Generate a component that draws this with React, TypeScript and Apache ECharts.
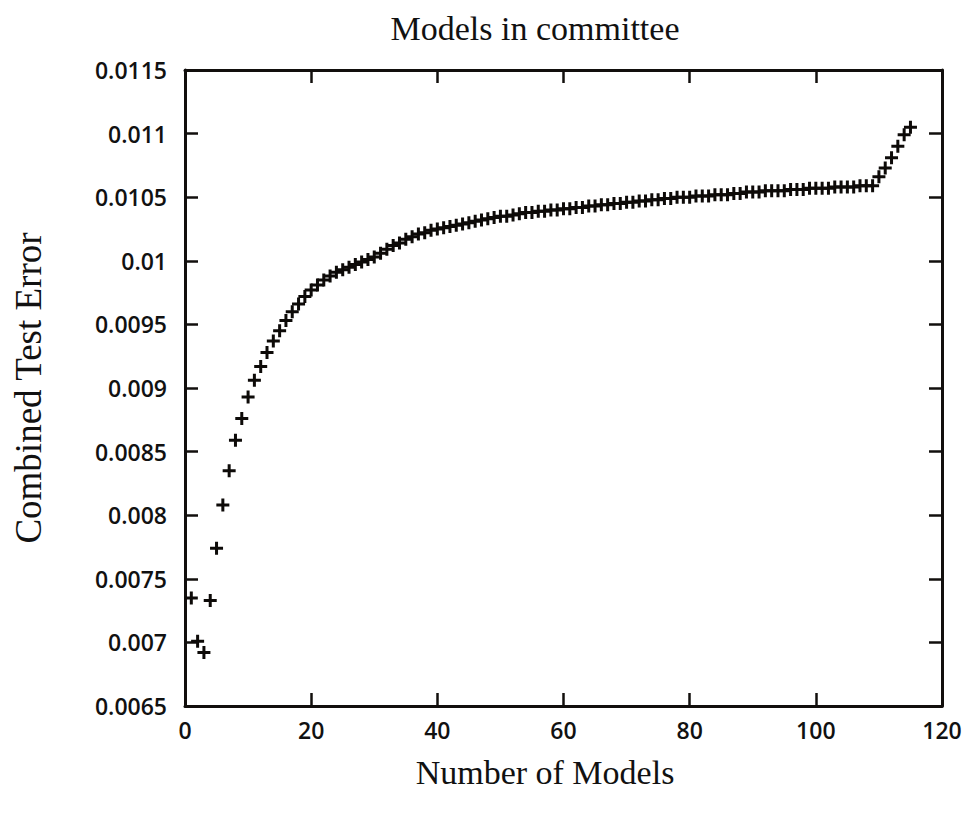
import React, { useEffect, useRef } from "react";
import * as echarts from "echarts";

// Committee size (number of models) on the x axis
const modelCounts: number[] = Array.from({ length: 115 }, (_, i) => i + 1);

// Combined test error for each committee size
const combinedError: number[] = [
  0.00735, 0.00701, 0.00692, 0.00733, 0.00774, 0.00808, 0.00835, 0.00859, 0.00876, 0.00893,
  0.00906, 0.00917, 0.00928, 0.00937, 0.00945, 0.00953, 0.0096, 0.00966, 0.00972, 0.00977,
  0.00981, 0.00985, 0.00988, 0.00991, 0.00993, 0.00995, 0.00997, 0.00999, 0.01001, 0.01003,
  0.01006, 0.01009, 0.01012, 0.01014, 0.01017, 0.01019, 0.01021, 0.01022, 0.01024, 0.01025,
  0.01026, 0.01027, 0.01028, 0.01029, 0.0103, 0.01031, 0.01032, 0.01033, 0.01034, 0.01035,
  0.01035, 0.01036, 0.01037, 0.01038, 0.01038, 0.01039, 0.01039, 0.0104, 0.0104, 0.01041,
  0.01041, 0.01042, 0.01042, 0.01043, 0.01043, 0.01044, 0.01044, 0.01045, 0.01045, 0.01046,
  0.01046, 0.01047, 0.01047, 0.01048, 0.01048, 0.01049, 0.01049, 0.0105, 0.0105, 0.0105,
  0.01051, 0.01051, 0.01051, 0.01052, 0.01052, 0.01052, 0.01053, 0.01053, 0.01054, 0.01054,
  0.01054, 0.01055, 0.01055, 0.01055, 0.01055, 0.01056, 0.01056, 0.01056, 0.01057, 0.01057,
  0.01057, 0.01057, 0.01058, 0.01058, 0.01058, 0.01058, 0.01059, 0.01059, 0.01059, 0.01066,
  0.01073, 0.01081, 0.0109, 0.01099, 0.01105,
];

const xTicks = { min: 0, max: 120, interval: 20 };
const yTicks = { min: 0.0065, max: 0.0115, interval: 0.0005 };

const titleText = "Models in committee";
const xLabel = "Number of Models";
const yLabel = "Combined Test Error";

const AXIS_COLOR = "#120f0d";
const SERIF = "'Liberation Serif', 'Times New Roman', serif";
const SANS = "'Open Sans', 'Noto Sans', sans-serif";

const fmtY = (v: number) => {
  const s = v.toFixed(4);
  return s.replace(/0+$/, "").replace(/\.$/, "");
};

const makeLine = () => ({ show: true, onZero: false, lineStyle: { color: AXIS_COLOR, width: 3 } });
const makeTick = () => ({
  show: true,
  inside: true,
  length: 13,
  lineStyle: { color: AXIS_COLOR, width: 2.5 },
});
const makeLabel = (margin: number) => ({
  color: "#111",
  fontFamily: SANS,
  fontSize: 23,
  fontWeight: 600 as any,
  margin,
});

export default function App() {
  const ref = useRef<HTMLDivElement>(null);

  useEffect(() => {
    if (!ref.current) return;
    const chart = echarts.init(ref.current, undefined, { renderer: "svg" });

    chart.setOption({
      animation: false,
      backgroundColor: "#ffffff",
      grid: { left: 185, right: 28, top: 70, bottom: 108, containLabel: false },
      xAxis: [
        {
          type: "value",
          position: "bottom",
          ...xTicks,
          axisLine: makeLine(),
          axisTick: makeTick(),
          splitLine: { show: false },
          axisLabel: makeLabel(12),
        },
        {
          type: "value",
          position: "top",
          ...xTicks,
          axisLine: makeLine(),
          axisTick: makeTick(),
          splitLine: { show: false },
          axisLabel: { show: false },
        },
      ],
      yAxis: [
        {
          type: "value",
          position: "left",
          ...yTicks,
          axisLine: makeLine(),
          axisTick: makeTick(),
          splitLine: { show: false },
          axisLabel: { ...makeLabel(18), formatter: fmtY },
        },
        {
          type: "value",
          position: "right",
          ...yTicks,
          axisLine: makeLine(),
          axisTick: makeTick(),
          splitLine: { show: false },
          axisLabel: { show: false },
        },
      ],
      graphic: [
        {
          type: "text",
          x: 535,
          y: 28,
          style: {
            text: titleText,
            font: `34px ${SERIF}`,
            fill: "#111",
            textAlign: "center",
            textVerticalAlign: "middle",
          },
        },
        {
          type: "text",
          x: 545,
          y: 772,
          style: {
            text: xLabel,
            font: `34px ${SERIF}`,
            fill: "#111",
            textAlign: "center",
            textVerticalAlign: "middle",
          },
        },
        {
          type: "text",
          x: 28,
          y: 388,
          rotation: Math.PI / 2,
          style: {
            text: yLabel,
            font: `37px ${SERIF}`,
            fill: "#111",
            textAlign: "center",
            textVerticalAlign: "middle",
          },
        },
      ],
      series: [
        {
          type: "scatter",
          xAxisIndex: 0,
          yAxisIndex: 0,
          symbol: "path://M5,0h3v13h-3z M0,5h13v3h-13z",
          symbolSize: 13,
          itemStyle: { color: "#0d0a08", opacity: 1 },
          data: combinedError.map((v, i) => [modelCounts[i], v]),
        },
      ],
    });

    return () => chart.dispose();
  }, []);

  return (
    <div
      ref={ref}
      style={{ position: "fixed", left: 0, top: 0, width: 970, height: 814, background: "#fff" }}
    />
  );
}
